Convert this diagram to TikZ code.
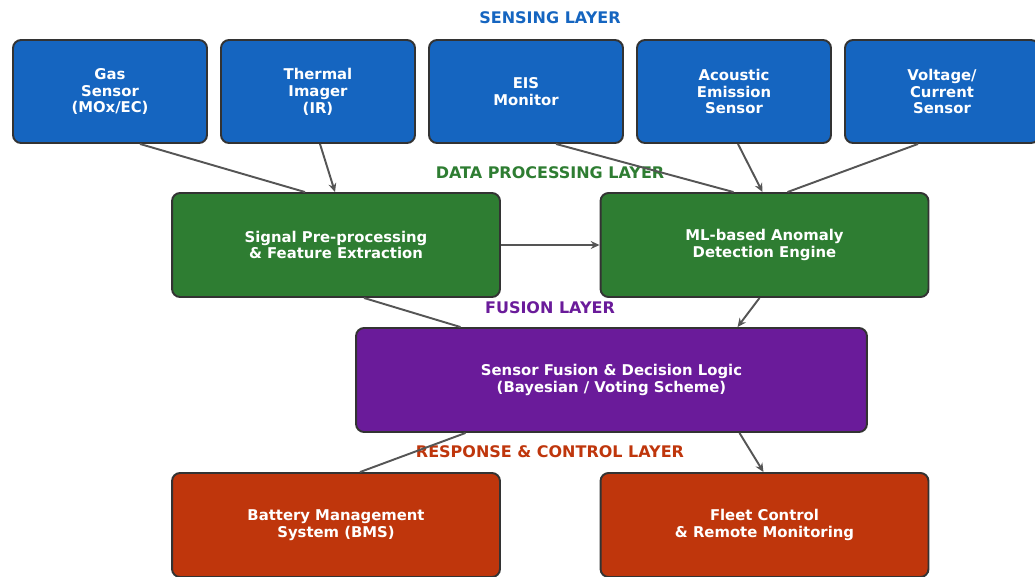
\documentclass[tikz,border=0pt]{standalone}
\usepackage{fontspec}
\setmainfont{DejaVu Sans}
\usetikzlibrary{arrows.meta, calc}
\definecolor{senseblue}{HTML}{1565C0}
\definecolor{procgreen}{HTML}{2E7D32}
\definecolor{fusepurple}{HTML}{6A1B9A}
\definecolor{respred}{HTML}{BF360C}
\definecolor{edgegray}{HTML}{555555}
\definecolor{rimgray}{HTML}{333333}

\begin{document}
\begin{tikzpicture}[x=0.02cm, y=-0.02cm,
	layerbox/.style={draw=rimgray, line width=1.1pt, rounded corners=0.16cm, text=white,
		align=center, font=\fontsize{8.45}{9.6}\selectfont\bfseries, inner sep=0pt},
	sensorbox/.style={layerbox, fill=senseblue, minimum width=3.88cm, minimum height=2.06cm},
	widebox/.style={layerbox, minimum width=6.56cm, minimum height=2.08cm},
	layertitle/.style={font=\fontsize{9.1}{11}\selectfont\bfseries},
	link/.style={color=edgegray, line width=1.1pt},
	linkto/.style={link, -{Stealth[length=5pt, width=4.5pt]}}]
	\useasboundingbox (0,0) rectangle (1035,576);

	% layer titles
	\node[layertitle, text=senseblue] (tsense) at (550,18) {SENSING LAYER};
	\node[layertitle, text=procgreen] (tproc) at (550,173) {DATA PROCESSING LAYER};
	\node[layertitle, text=fusepurple] (tfuse) at (550,308) {FUSION LAYER};
	\node[layertitle, text=respred] (tresp) at (550,452) {RESPONSE \& CONTROL LAYER};

	% sensing layer
	\node[sensorbox] (gas) at (110,91.5) {Gas\\Sensor\\(MOx/EC)};
	\node[sensorbox] (thermal) at (318,91.5) {Thermal\\Imager\\(IR)};
	\node[sensorbox] (eis) at (526,91.5) {EIS\\Monitor};
	\node[sensorbox] (acoustic) at (734,91.5) {Acoustic\\Emission\\Sensor};
	\node[sensorbox] (voltage) at (942,91.5) {Voltage/\\Current\\Sensor};

	% processing, fusion, response
	\node[widebox, fill=procgreen] (signal) at (336,245) {Signal Pre-processing\\\& Feature Extraction};
	\node[widebox, fill=procgreen] (anomaly) at (764.5,245) {ML-based Anomaly\\Detection Engine};

	\node[layerbox, fill=fusepurple, minimum width=10.22cm, minimum height=2.08cm] (fusion) at (611.5,380) {Sensor Fusion \& Decision Logic\\(Bayesian / Voting Scheme)};

	\node[widebox, fill=respred] (bms) at (336,525) {Battery Management\\System (BMS)};
	\node[widebox, fill=respred] (fleet) at (764.5,525) {Fleet Control\\\& Remote Monitoring};

	\draw[link] ($(gas.south)+(30,0)$) -- ($(signal.north)+(-31,0)$);
	\draw[linkto] ($(thermal.south)+(2,0)$) -- ($(signal.north)+(-1,0)$);
	\draw[link] ($(eis.south)+(30,0)$) -- ($(anomaly.north)+(-31,0)$);
	\draw[linkto] ($(acoustic.south)+(4,0)$) -- ($(anomaly.north)+(-2,0)$);
	\draw[link] ($(voltage.south)+(-24,0)$) -- ($(anomaly.north)+(23,0)$);
	\draw[linkto] (signal.east) -- (anomaly.west);
	\draw[link] ($(signal.south)+(28,0)$) -- ($(fusion.north)+(-151,0)$);
	\draw[linkto] ($(anomaly.south)+(-5,0)$) -- ($(fusion.north)+(126,0)$);
	\draw[link] ($(fusion.south)+(-146,0)$) -- ($(bms.north)+(24,0)$);
	\draw[linkto] ($(fusion.south)+(128,0)$) -- ($(fleet.north)+(-1,0)$);
\end{tikzpicture}
\end{document}
